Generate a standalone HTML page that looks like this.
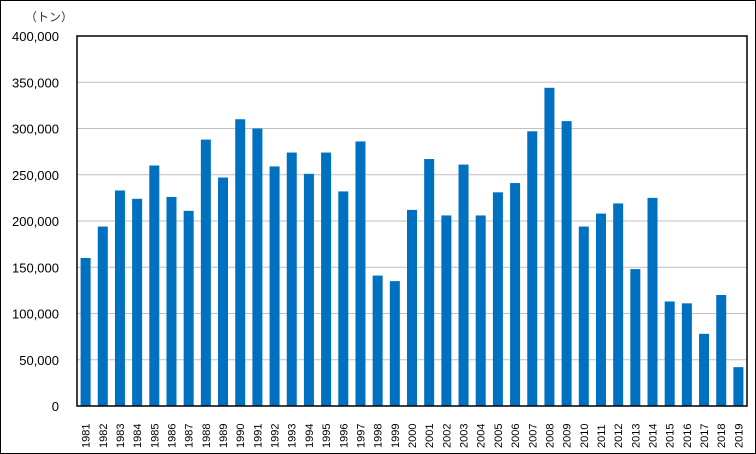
<!DOCTYPE html>
<html><head><meta charset="utf-8"><style>
html,body{margin:0;padding:0;background:#fff}
svg{display:block;font-family:"Liberation Sans","Noto Sans CJK JP",sans-serif}
</style></head><body>
<svg id="chart" width="756" height="454" viewBox="0 0 756 454">
<rect x="0.5" y="0.5" width="755" height="453" fill="#fff" stroke="#000" stroke-width="1"/>
<text x="25" y="21" font-size="12" fill="#333">（トン）</text>
<g id="grid"></g>
<g id="bars"></g>
<rect x="77" y="36" width="670" height="370" fill="none" stroke="#000" stroke-width="1.5"/>
<g id="ylabels"></g>
<g id="xlabels"></g>
</svg>
<script>
const years=['1981','1982','1983','1984','1985','1986','1987','1988','1989','1990','1991','1992','1993','1994','1995','1996','1997','1998','1999','2000','2001','2002','2003','2004','2005','2006','2007','2008','2009','2010','2011','2012','2013','2014','2015','2016','2017','2018','2019'];
const values=[160000,194000,233000,224000,260000,226000,211000,288000,247000,310000,300000,259000,274000,251000,274000,232000,286000,141000,135000,212000,267000,206000,261000,206000,231000,241000,297000,344000,308000,194000,208000,219000,148000,225000,113000,111000,78000,120000,42000];
const ticks=[0,50000,100000,150000,200000,250000,300000,350000,400000];
const tickLabels=['0','50,000','100,000','150,000','200,000','250,000','300,000','350,000','400,000'];
const NS='http://www.w3.org/2000/svg';
const L=77,R=747,T=36,B=406,YMAX=400000;
const y=v=>B-(v/YMAX)*(B-T);
const step=(R-L)/years.length;
const x=i=>L+step*(i+0.5);
const grid=document.getElementById('grid'),bars=document.getElementById('bars'),yl=document.getElementById('ylabels'),xl=document.getElementById('xlabels');
ticks.forEach((t,i)=>{
  if(t>0&&t<YMAX){
    const ln=document.createElementNS(NS,'line');
    ln.setAttribute('x1',L);ln.setAttribute('x2',R);ln.setAttribute('y1',y(t));ln.setAttribute('y2',y(t));
    ln.setAttribute('stroke','#c0c0c0');ln.setAttribute('stroke-width','1');
    
    
    grid.appendChild(ln);
  }
  const tx=document.createElementNS(NS,'text');
  tx.setAttribute('x',59);tx.setAttribute('y',y(t)+5);tx.setAttribute('text-anchor','end');tx.setAttribute('font-size','13');
  tx.textContent=tickLabels[i];
  
  
  yl.appendChild(tx);
});
years.forEach((yr,i)=>{
  const r=document.createElementNS(NS,'rect');
  r.setAttribute('x',x(i)-5);r.setAttribute('width',10);
  r.setAttribute('y',y(values[i]));r.setAttribute('height',B-y(values[i]));
  r.setAttribute('fill','#0070c0');
  
  
  bars.appendChild(r);
  const tx=document.createElementNS(NS,'text');
  tx.setAttribute('transform','translate('+(x(i)+4)+',448) rotate(-90)');
  tx.setAttribute('font-size','11');
  tx.textContent=yr;
  
  
  xl.appendChild(tx);
});
</script>
</body></html>
